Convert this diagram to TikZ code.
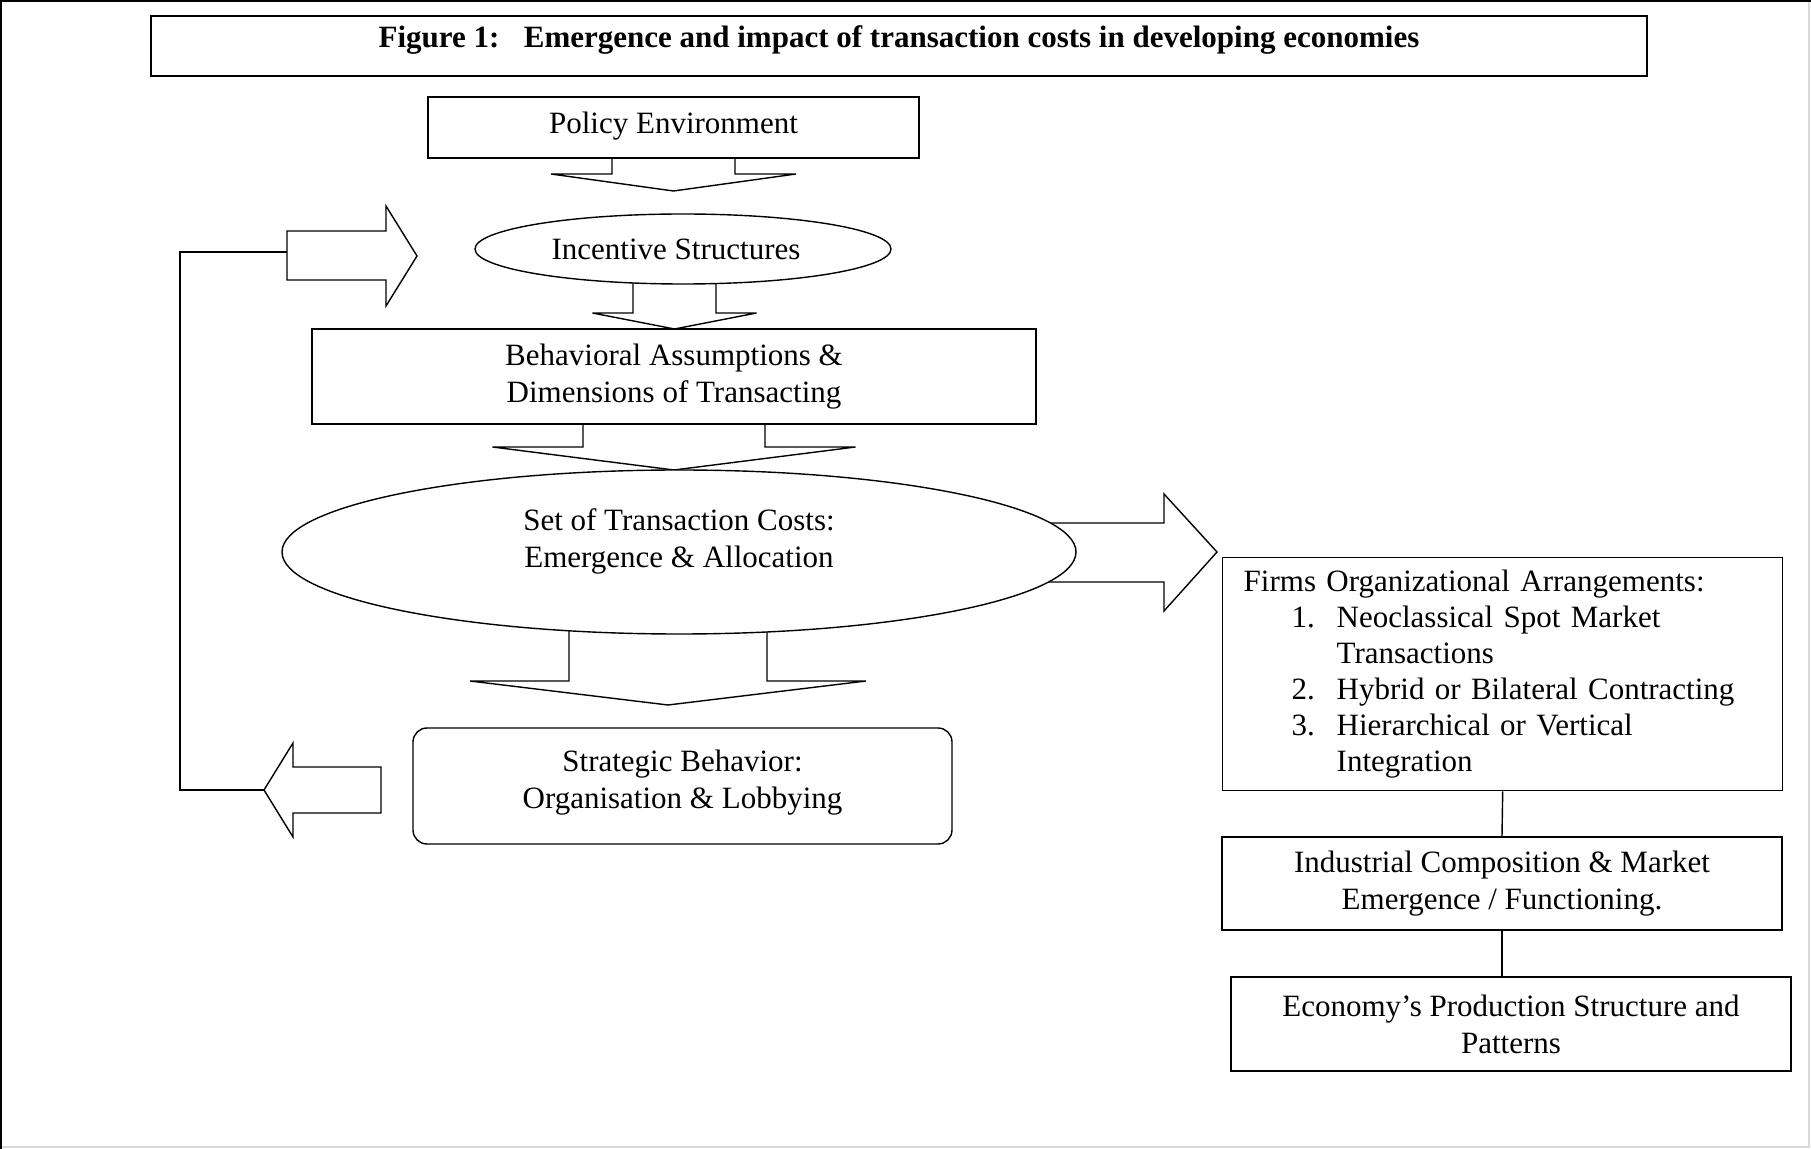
\documentclass[tikz,border=0pt]{standalone}
\usepackage{fontspec}
\setmainfont{Liberation Serif}
\usetikzlibrary{shapes.geometric}
% block arrow pointing down: centre x, shaft half width, head half width, shaft top, head base, tip
\newcommand{\downblock}[6]{\draw[blockarrow] (#1-#2,#4) -- (#1-#2,#5) -- (#1-#3,#5) -- (#1,#6) -- (#1+#3,#5) -- (#1+#2,#5) -- (#1+#2,#4);}
\newcommand{\itm}[2]{\hspace*{24pt}\makebox[22.5pt][l]{#1}#2}

\begin{document}
\begin{tikzpicture}[x=0.5pt,y=-0.5pt]
    \tikzstyle{every node}=[font=\fontsize{15.5}{18.5}\selectfont]
    \tikzstyle{blockarrow}=[line width=0.7pt, fill=white, line join=miter]
    \tikzstyle{plainbox}=[draw, line width=0.7pt, fill=white, align=center, inner sep=0pt]
    \tikzstyle{ovalbox}=[ellipse, draw, line width=0.7pt, fill=white, inner sep=0pt]
    \useasboundingbox (0,0) rectangle (1811,1149);
    % page frame
    \draw[gray!30, line width=0.8pt] (1809,0) -- (1809,1147) -- (0,1147);
    \draw[line width=1.2pt] (1,1149) -- (1,1) -- (1811,1);
    % block arrows
    \downblock{673.5}{61.5}{122.5}{150}{174}{191}
    \downblock{674.5}{41.5}{82}{270}{313}{329}
    \downblock{674}{91}{181.5}{415}{447}{470}
    \downblock{668}{99}{198}{620}{681}{705}
    \draw[blockarrow] (1000,523) -- (1164,523) -- (1164,494) -- (1217,552) -- (1164,611) -- (1164,582) -- (1000,582);
    \draw[blockarrow] (381,767) -- (293,767) -- (293,743) -- (264,790) -- (293,837) -- (293,813) -- (381,813) -- cycle;
    \draw[blockarrow] (287,231) -- (386,231) -- (386,206) -- (417,256) -- (386,306) -- (386,280) -- (287,280) -- cycle;
    \coordinate (backtip) at (264,790);
    \coordinate (backin) at (287,252);
    \draw[line width=0.7pt] (backtip) -- ++(-84,0) |- (backin);
    % boxes
    \node[plainbox, minimum width=748pt, minimum height=30pt, text depth=9.5pt] (title) at (899,46)
        {\textbf{Figure 1:\hspace{7pt} Emergence and impact of transaction costs in developing economies}};
    \node[plainbox, minimum width=245.5pt, minimum height=30.5pt, text depth=5pt] (policy) at (673.5,127.5) {Policy Environment};
    \node[ovalbox, minimum width=208pt, minimum height=35pt] (incentive) at (683,249) {\hspace*{-7pt}Incentive Structures};
    \node[plainbox, minimum width=362pt, minimum height=47.5pt] (behaviour) at (674,376.5)
        {Behavioral Assumptions \&\\ Dimensions of Transacting};
    \node[ovalbox, minimum width=397pt, minimum height=82pt] (costs) at (679,552) {};
    \node[align=center] (coststext) at (679,541.5) {Set of Transaction Costs:\\ Emergence \& Allocation};
    \node[plainbox, rounded corners=7pt, minimum width=269.5pt, minimum height=58pt, text depth=7pt] (strategic) at (682.5,786)
        {Strategic Behavior:\\ Organisation \& Lobbying};
    \node[plainbox, anchor=north west, align=left, text width=259pt, inner xsep=10.5pt, minimum height=116.5pt,
          font=\fontsize{15.5}{18}\selectfont] (firms) at (1222,557)
        {Firms Organizational Arrangements:\\
         \itm{1.}{Neoclassical Spot Market}\\
         \itm{}{Transactions}\\
         \itm{2.}{Hybrid or Bilateral Contracting}\\
         \itm{3.}{Hierarchical or Vertical}\\
         \itm{}{Integration}};
    \node[plainbox, minimum width=280pt, minimum height=46.5pt] (industry) at (1502,883.5)
        {Industrial Composition \& Market\\ Emergence / Functioning.};
    \node[plainbox, minimum width=280pt, minimum height=47pt] (economy) at (1511,1024)
        {Economy’s Production Structure and\\ Patterns};
    \draw[line width=0.7pt] (firms.south) -- (industry.north);
    \draw[line width=0.7pt] (industry.south) -- (industry.south |- economy.north);
\end{tikzpicture}
\end{document}
